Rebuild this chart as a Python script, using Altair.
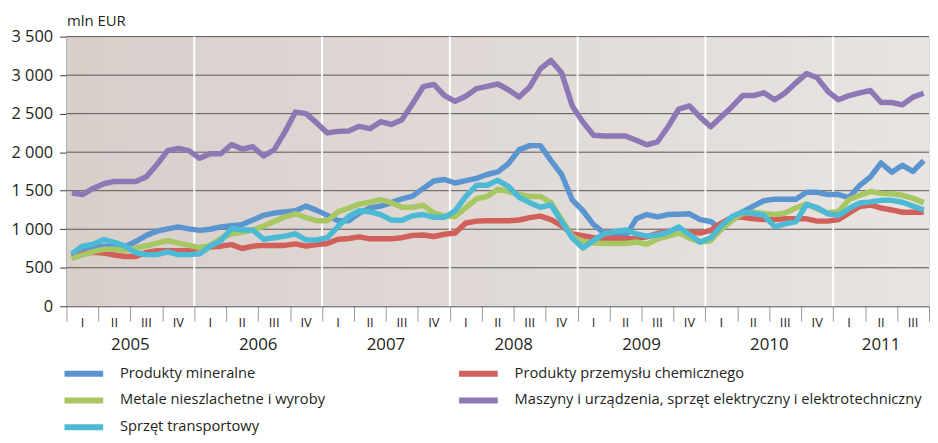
import altair as alt
import pandas as pd

# ---- data (mln EUR, monthly Jan 2005 - Sep 2011) ----
series_names = [
    "Produkty mineralne",
    "Produkty przemysłu chemicznego",
    "Metale nieszlachetne i wyroby",
    "Maszyny i urządzenia, sprzęt elektryczny i elektrotechniczny",
    "Sprzęt transportowy",
]
series_colors = ["#5a95cf", "#d2605a", "#a7c762", "#8d77b5", "#4cbad5"]
# legend is laid out column by column
legend_order = [0, 2, 4, 1, 3]

maszyny = [
    1470, 1450, 1530, 1590, 1620, 1620, 1620, 1680, 1840, 2020, 2050, 2020,
    1920, 1980, 1980, 2100, 2040, 2070, 1950, 2030, 2260, 2520, 2500, 2380,
    2250, 2270, 2275, 2335, 2305, 2395, 2360, 2420, 2630, 2850, 2880, 2735,
    2660, 2725, 2825, 2855, 2885, 2810, 2715, 2845, 3080, 3190, 3030, 2600,
    2390, 2220, 2210, 2210, 2210, 2155, 2095, 2135, 2330, 2560, 2600, 2455,
    2330, 2460, 2590, 2735, 2735, 2770, 2680, 2770, 2900, 3020, 2965, 2790,
    2680, 2735, 2770, 2800, 2645, 2645, 2615, 2715, 2765,
]
mineralne = [
    660, 720, 760, 780, 780, 770, 840, 920, 975, 1005, 1030, 1005,
    985, 1000, 1030, 1045, 1060, 1120, 1180, 1210, 1225, 1240, 1300, 1245,
    1180, 1110, 1110, 1210, 1275, 1300, 1345, 1395, 1430, 1530, 1625, 1645,
    1600, 1630, 1660, 1710, 1745, 1850, 2030, 2085, 2085, 1890, 1710, 1380,
    1240, 1060, 950, 950, 910, 1135, 1190, 1160, 1190, 1195, 1200, 1125,
    1100, 1000, 1140, 1225, 1300, 1370, 1390, 1390, 1390, 1480, 1480, 1450,
    1450, 1410, 1570, 1680, 1860, 1740, 1830, 1750, 1890,
]
metale = [
    620, 665, 710, 740, 740, 725, 755, 785, 820, 850, 820, 790,
    760, 790, 880, 940, 960, 990, 1040, 1100, 1160, 1200, 1150, 1110,
    1110, 1225, 1275, 1325, 1350, 1385, 1345, 1285, 1285, 1310, 1210, 1175,
    1165, 1280, 1395, 1425, 1520, 1490, 1450, 1425, 1425, 1345, 1125, 905,
    840, 820, 815, 815, 815, 835, 805, 875, 910, 950, 885, 835,
    850, 1005, 1110, 1210, 1220, 1205, 1190, 1210, 1275, 1330, 1260, 1210,
    1230, 1385, 1440, 1490, 1465, 1460, 1440, 1400, 1345,
]
chemia = [
    650, 680, 700, 690, 665, 645, 645, 700, 720, 720, 720, 720,
    760, 770, 780, 800, 750, 780, 790, 790, 790, 810, 780, 800,
    815, 870, 880, 900, 875, 875, 875, 890, 920, 925, 905, 935,
    950, 1080, 1105, 1110, 1110, 1110, 1120, 1150, 1170, 1125, 1045, 940,
    915, 890, 880, 885, 875, 880, 900, 945, 970, 980, 960, 950,
    985, 1080, 1155, 1155, 1135, 1125, 1125, 1135, 1135, 1135, 1105, 1105,
    1125, 1210, 1295, 1315, 1275, 1250, 1220, 1220, 1220,
]
transport = [
    680, 780, 805, 865, 830, 780, 695, 670, 670, 705, 670, 670,
    680, 780, 850, 1010, 990, 990, 870, 890, 910, 940, 860, 860,
    890, 1035, 1165, 1240, 1225, 1190, 1120, 1115, 1175, 1190, 1155, 1155,
    1240, 1425, 1570, 1570, 1635, 1555, 1415, 1345, 1285, 1315, 1100, 885,
    755, 855, 940, 970, 990, 940, 910, 925, 960, 1030, 930, 835,
    890, 1045, 1165, 1225, 1205, 1180, 1035, 1070, 1100, 1320, 1280, 1200,
    1180, 1270, 1340, 1355, 1375, 1375, 1350, 1300, 1250,
]

years = [2005, 2006, 2007, 2008, 2009, 2010, 2011]
quarter_names = ["I", "II", "III", "IV"]
y_ticks = [0, 500, 1000, 1500, 2000, 2500, 3000, 3500]

n_months = len(maszyny)  # 81
# draw order (bottom -> top)
draw_order = [
    (series_names[3], maszyny),
    (series_names[0], mineralne),
    (series_names[1], chemia),
    (series_names[2], metale),
    (series_names[4], transport),
]
rows = []
for k, (name, vals) in enumerate(draw_order):
    for i, v in enumerate(vals):
        rows.append({"m": i + 0.5, "v": v, "s": name, "o": k})
lines_df = pd.DataFrame(rows)

n_quarters = n_months // 3
quarter_df = pd.DataFrame({
    "m": [3 * q + 1.5 for q in range(n_quarters)],
    "lab": [quarter_names[q % 4] for q in range(n_quarters)],
})
year_df = pd.DataFrame({
    "m": [(12 * k + min(12 * k + 12, n_months)) / 2 for k in range(len(years))],
    "lab": [str(y) for y in years],
})
year_bounds = pd.DataFrame({"m": [12 * k for k in range(1, len(years))]})
grid_df = pd.DataFrame({"v": y_ticks[1:]})

FONT = "Open Sans"
W, H = 870, 272

xs = alt.Scale(domain=[0, n_months], nice=False, zero=False)
ys = alt.Scale(domain=[0, 3500], nice=False)

X_AXIS = alt.Axis(values=[3 * q for q in range(n_quarters + 1)],
                  labels=False, title=None, grid=False,
                  tickSize=15, tickColor="#9a9a9a", tickWidth=1,
                  domainColor="#3c3c3c", domainWidth=1)
Y_AXIS = alt.Axis(values=y_ticks, grid=False, title="mln EUR",
                  titleAngle=0, titleX=0, titleY=-8,
                  titleAlign="left", titleBaseline="bottom",
                  titleFont=FONT, titleFontSize=15, titleFontWeight="normal",
                  titleColor="#231f20",
                  labelFont=FONT, labelFontSize=16.5, labelColor="#231f20",
                  labelPadding=7, tickSize=7, tickColor="#3c3c3c",
                  labelOverlap=False, labelFlush=False,
                  domainColor="#3c3c3c",
                  labelExpr="replace(format(datum.value, ','), ',', ' ')")

bg = alt.Chart(pd.DataFrame({"a": [0]})).mark_rect(
    color=alt.LinearGradient(
        gradient="linear",
        stops=[alt.GradientStop(color="#d8cfcb", offset=0),
               alt.GradientStop(color="#e8e4e2", offset=1)],
        x1=0, x2=1, y1=0, y2=0,
    )
).encode(
    x=alt.datum(0, scale=xs, type="quantitative", axis=X_AXIS),
    x2=alt.datum(n_months),
    y=alt.datum(0, scale=ys, type="quantitative", axis=Y_AXIS),
    y2=alt.datum(3500),
)

grid = alt.Chart(grid_df).mark_rule(color="#5a5553", strokeWidth=1).encode(
    y=alt.Y("v:Q", scale=ys, axis=Y_AXIS),
)

ybounds = alt.Chart(year_bounds).mark_rule(color="#ffffff", strokeWidth=2).encode(
    x=alt.X("m:Q", scale=xs, axis=X_AXIS),
)

lines = alt.Chart(lines_df).mark_line(strokeWidth=5.5, strokeJoin="round").encode(
    x=alt.X("m:Q", scale=xs, axis=X_AXIS),
    y=alt.Y("v:Q", scale=ys, axis=Y_AXIS),
    color=alt.Color("s:N",
                    scale=alt.Scale(domain=[series_names[i] for i in legend_order],
                                    range=[series_colors[i] for i in legend_order]),
                    legend=alt.Legend(
                        orient="none", legendX=-5, legendY=329,
                        columns=2, title=None, padding=0,
                        symbolType="stroke", symbolSize=1521,
                        symbolStrokeWidth=6, clipHeight=22,
                        labelFont=FONT, labelFontSize=14.8, labelColor="#231f20",
                        labelOffset=14, columnPadding=132, rowPadding=5,
                        labelLimit=600,
                    )),
    detail="s:N",
    order="o:Q",
)

qtext = alt.Chart(quarter_df).mark_text(
    font=FONT, fontSize=13, color="#231f20", baseline="middle"
).encode(
    x=alt.X("m:Q", scale=xs, axis=X_AXIS),
    y=alt.value(H + 17),
    text="lab:N",
)

ytext = alt.Chart(year_df).mark_text(
    font=FONT, fontSize=17, color="#231f20", baseline="middle"
).encode(
    x=alt.X("m:Q", scale=xs, axis=X_AXIS),
    y=alt.value(H + 39),
    text="lab:N",
)

chart = alt.layer(bg, grid, ybounds, lines, qtext, ytext).properties(
    width=W, height=H,
    autosize=alt.AutoSizeParams(type="none"),
    padding={"left": 59, "top": 27, "right": 1, "bottom": 128},
).configure_view(stroke=None).configure(background="#ffffff")

chart.save("out.html", embed_options={"renderer": "svg", "actions": False})
